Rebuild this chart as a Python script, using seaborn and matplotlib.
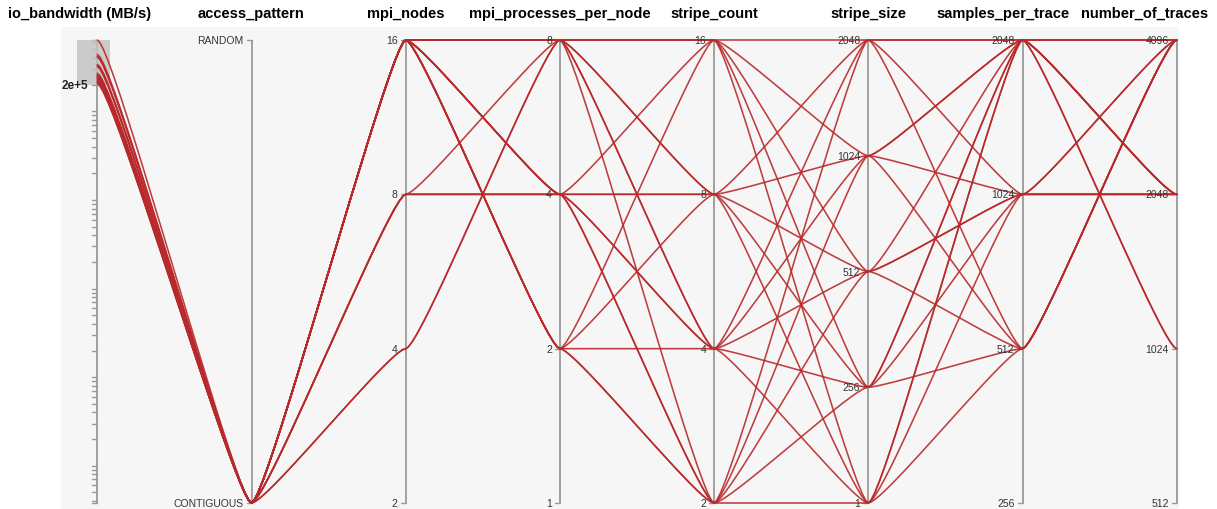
import numpy as np
import pandas as pd
import matplotlib
matplotlib.use("Agg")
import matplotlib.pyplot as plt
import seaborn as sns

# ---- experiment runs (selected by the io_bandwidth brush) ----
io_bandwidth = [6.4e5, 4.4e5, 4.2e5, 4.1e5, 3.4e5, 3.3e5, 3.2e5, 2.7e5, 2.6e5, 2.55e5,
                2.5e5, 2.45e5, 2.4e5, 2.35e5, 2.3e5, 2.25e5, 2.2e5, 2.15e5, 2.1e5, 2.05e5]
access_pattern = ["CONTIGUOUS"] * 20
mpi_nodes = [16, 16, 16, 16, 16, 16, 16, 16, 16, 16, 16, 16, 8, 8, 8, 4, 16, 8, 16, 4]
mpi_processes_per_node = [8, 8, 8, 8, 4, 4, 4, 4, 2, 2, 2, 2, 8, 4, 4, 8, 8, 4, 2, 8]
stripe_count = [16, 8, 4, 2, 16, 8, 4, 2, 16, 8, 4, 2, 16, 8, 2, 16, 8, 4, 2, 4]
stripe_size = [2048, 1024, 1, 256, 1, 512, 2048, 1, 512, 1, 256, 1024, 256, 2048, 512, 1024, 256, 512, 2048, 1024]
samples_per_trace = [2048, 2048, 1024, 512, 2048, 1024, 512, 2048, 2048, 512, 2048, 1024, 1024, 1024, 512, 2048, 2048, 1024, 2048, 512]
number_of_traces = [4096, 2048, 4096, 4096, 1024, 2048, 4096, 2048, 4096, 4096, 2048, 4096, 2048, 2048, 4096, 4096, 2048, 2048, 1024, 4096]

# axis domains
bw_domain = (3.8, 6.4e5)          # log axis extent over all runs
bw_brush = (2e5, 6.4e5)           # active brush on io_bandwidth
access_levels = ["RANDOM", "CONTIGUOUS"]
nodes_levels = [16, 8, 4, 2]
ppn_levels = [8, 4, 2, 1]
count_levels = [16, 8, 4, 2]
size_levels = [2048, 1024, 512, 256, 1]
spt_levels = [2048, 1024, 512, 256]
traces_levels = [4096, 2048, 1024, 512]

titles = ["io_bandwidth (MB/s)", "access_pattern", "mpi_nodes", "mpi_processes_per_node",
          "stripe_count", "stripe_size", "samples_per_trace", "number_of_traces"]

df = pd.DataFrame({
    "io_bandwidth": io_bandwidth, "access_pattern": access_pattern, "mpi_nodes": mpi_nodes,
    "mpi_processes_per_node": mpi_processes_per_node, "stripe_count": stripe_count,
    "stripe_size": stripe_size, "samples_per_trace": samples_per_trace,
    "number_of_traces": number_of_traces,
})
df = df[(df.io_bandwidth >= bw_brush[0]) & (df.io_bandwidth <= bw_brush[1])]

lo, hi = np.log10(bw_domain[0]), np.log10(bw_domain[1])


def bw_pos(v):
    return (np.log10(v) - lo) / (hi - lo)


def cat_pos(v, levels):
    n = len(levels)
    return 1 - levels.index(v) / (n - 1)


cat_axes = [("access_pattern", access_levels), ("mpi_nodes", nodes_levels),
            ("mpi_processes_per_node", ppn_levels), ("stripe_count", count_levels),
            ("stripe_size", size_levels), ("samples_per_trace", spt_levels),
            ("number_of_traces", traces_levels)]


def eased_path(xs, ys, d=0.1, per=24):
    """Each span is a cubic Bezier that leaves/enters the axes horizontally."""
    px, py = [], []
    u = np.linspace(0, 1, per)
    for i in range(len(xs) - 1):
        xa, xb, ya, yb = xs[i], xs[i + 1], ys[i], ys[i + 1]
        h = xb - xa
        cx = [xa, xa + d * h, xb - d * h, xb]
        cy = [ya, ya, yb, yb]
        b = [(1 - u) ** 3, 3 * (1 - u) ** 2 * u, 3 * (1 - u) * u ** 2, u ** 3]
        xx = sum(bi * c for bi, c in zip(b, cx))
        yy = sum(bi * c for bi, c in zip(b, cy))
        if i > 0:
            xx, yy = xx[1:], yy[1:]
        px.extend(xx)
        py.extend(yy)
    return px, py


rows = []
for rid, r in df.reset_index(drop=True).iterrows():
    ys = [bw_pos(r.io_bandwidth)] + [cat_pos(r[c], lv) for c, lv in cat_axes]
    xs = list(range(len(ys)))
    cx, cy = eased_path(xs, ys)
    rows.extend({"x": a, "y": b, "run": rid} for a, b in zip(cx, cy))
curves = pd.DataFrame(rows)

# ---- figure ----
sns.set_theme(style="white")
plt.rcParams["font.family"] = ["Liberation Sans", "DejaVu Sans"]

W, H = 1217, 510
fig = plt.figure(figsize=(W / 100, H / 100), dpi=100)
ax = fig.add_axes([0, 0, 1, 1])
x0, dxp = 97.3, 154.2           # first axis position and spacing (px)
ytop, ybot = 41, 504             # value 1 and value 0 (px)
span = ybot - ytop
ax.set_xlim(-x0 / dxp, (W - x0) / dxp)
ax.set_ylim(-(H - ybot) / span, 1 + ytop / span)
ax.axis("off")

px = 1 / dxp   # one pixel in x units
py = 1 / span  # one pixel in y units

# panel background
ax.add_patch(plt.Rectangle((-36 * px, -(H - ybot) * py), 7 + 36 * px + 2 * px,
                           (H - ybot) * py + 1 + 13 * py, color="#f6f6f6", zorder=0, lw=0))

axis_col = "#9a9a9a"
lab_col = "#333333"

# brush box on io_bandwidth
b0, b1 = bw_pos(bw_brush[0]), bw_pos(bw_brush[1])
ax.add_patch(plt.Rectangle((-20 * px, b0), 33 * px, b1 - b0, color="#c4c4c4", alpha=0.85, zorder=3, lw=0))

sns.lineplot(data=curves, x="x", y="y", units="run", estimator=None, sort=False,
             color="#b8292b", lw=1.15, alpha=0.9, legend=False, ax=ax, zorder=4)

# vertical axes
for i in range(8):
    ax.plot([i, i], [0, 1], color=axis_col, lw=1.3, zorder=2, solid_capstyle="butt")

# log ticks on io_bandwidth
for e in range(int(np.floor(lo)), int(np.ceil(hi)) + 1):
    for m in range(1, 10):
        v = m * 10 ** e
        if bw_domain[0] <= v <= bw_domain[1]:
            y = bw_pos(v)
            ax.plot([-5 * px, 0], [y, y], color=axis_col, lw=1, zorder=2)
ax.plot([-5 * px, 0], [0, 0], color=axis_col, lw=1, zorder=2)
ax.plot([-5 * px, 0], [1, 1], color=axis_col, lw=1, zorder=2)
ax.text(-9 * px, bw_pos(bw_brush[0]), "2e+5", ha="right", va="center", fontsize=8.5,
        fontweight="bold", color="#222222", zorder=6)

# categorical ticks and labels
for i, (col, levels) in enumerate(cat_axes, start=1):
    for v in levels:
        y = cat_pos(v, levels)
        ax.plot([i - 5 * px, i], [y, y], color=axis_col, lw=1, zorder=2)
        ax.text(i - 8 * px, y, str(v), ha="right", va="center", fontsize=7.5, color=lab_col, zorder=6)

# column titles (outer ones kept inside the canvas)
ty = 1 + (ytop - 14) * py
title_x = {0: ((8 - x0) * px, "left"), 6: ((1003 - x0) * px, "center"),
           7: ((1208 - x0) * px, "right")}
for i, t in enumerate(titles):
    xx, ha = title_x.get(i, (i, "center"))
    ax.text(xx, ty, t, ha=ha, va="center", fontsize=10.5, fontweight="bold", color="black")

fig.savefig("out.png", dpi=100)
